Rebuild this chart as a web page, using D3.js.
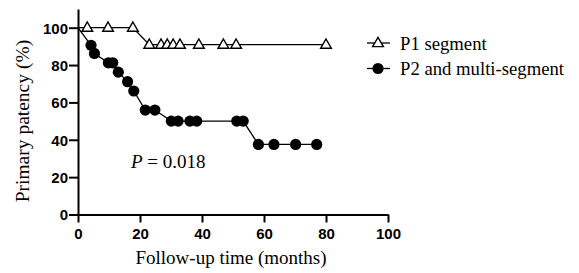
<!DOCTYPE html>
<html><head><meta charset="utf-8">
<script src="https://cdn.jsdelivr.net/npm/d3@7"></script>
<style>body{margin:0;background:#fff}svg{display:block}
.serif{font-family:"Liberation Serif","Times New Roman",serif}
.sans{font-family:"Liberation Sans",Arial,sans-serif}</style>
</head><body>
<svg id="c" width="579" height="273"></svg>
<script>
const p1Months = [0, 3, 9.7, 17.7, 23, 26.8, 28.8, 30.7, 32.9, 39, 46.9, 51, 80];
const p1Values = [100, 100, 100, 100, 90.9, 90.9, 90.9, 90.9, 90.9, 90.9, 90.9, 90.9, 90.9];
const p2Months = [0, 4.2, 5.3, 9.8, 11.2, 13, 16, 18, 21.7, 24.8, 30.1, 32.3, 36.1, 38.3, 51.2, 53.3, 58.2, 63.2, 70.2, 77];
const p2Values = [100, 90.6, 86.2, 81.2, 81.2, 76.2, 71.1, 66.1, 55.9, 55.9, 50, 50, 50, 50, 50, 50, 37.5, 37.5, 37.5, 37.5];
const xTicks = [0, 20, 40, 60, 80, 100];
const yTicks = [0, 20, 40, 60, 80, 100];
const seriesNames = ["P1 segment", "P2 and multi-segment"];

const svg = d3.select("#c");
const x = d3.scaleLinear().domain([0, 100]).range([78, 388]);
const y = d3.scaleLinear().domain([0, 110]).range([214.5, 9]);

const xAxis = svg.append("g").attr("transform", `translate(0,${y(0)})`)
  .call(d3.axisBottom(x).tickValues(xTicks).tickSize(8).tickSizeOuter(0));
const yAxis = svg.append("g").attr("transform", `translate(${x(0)},0)`)
  .call(d3.axisLeft(y).tickValues(yTicks).tickSize(9).tickSizeOuter(0));
[xAxis, yAxis].forEach(a => {
  a.attr("font-family", null).attr("font-size", null);
  a.select(".domain").attr("stroke", "#000").attr("stroke-width", 2);
  a.selectAll(".tick line").attr("stroke", "#000").attr("stroke-width", 2);
  a.selectAll(".tick text").attr("fill", "#000").attr("class", "sans")
    .style("font-weight", "bold").style("font-size", "15px");
});
xAxis.selectAll(".tick text").attr("y", 12.5).attr("dy", "0.82em");
yAxis.selectAll(".tick text").attr("x", -10).attr("dy", "0.36em");

const line = d3.line().x(d => x(d[0])).y(d => y(d[1]));
const p1 = p1Months.map((m, i) => [m, p1Values[i]]);
const p2 = p2Months.map((m, i) => [m, p2Values[i]]);

svg.append("path").datum(p1).attr("d", line).attr("fill", "none").attr("stroke", "#000").attr("stroke-width", 1.3);
svg.append("path").datum(p2).attr("d", line).attr("fill", "none").attr("stroke", "#000").attr("stroke-width", 1.3);

const tri = d3.symbol().type(d3.symbolTriangle).size(50);
svg.selectAll(".t").data(p1.slice(1)).enter().append("path")
  .attr("d", tri).attr("transform", d => `translate(${x(d[0])},${y(d[1]) + 0.5})`)
  .attr("fill", "#fff").attr("stroke", "#000").attr("stroke-width", 1.4);
svg.selectAll(".c").data(p2.slice(1)).enter().append("circle")
  .attr("cx", d => x(d[0])).attr("cy", d => y(d[1])).attr("r", 5.6).attr("fill", "#000");

const lg = svg.append("g");
lg.append("line").attr("x1", 367).attr("x2", 390).attr("y1", 43).attr("y2", 43).attr("stroke", "#000").attr("stroke-width", 1.3);
lg.append("path").attr("d", tri).attr("transform", "translate(378,43.5)").attr("fill", "#fff").attr("stroke", "#000").attr("stroke-width", 1.4);
lg.append("line").attr("x1", 367).attr("x2", 390).attr("y1", 68.5).attr("y2", 68.5).attr("stroke", "#000").attr("stroke-width", 1.3);
lg.append("circle").attr("cx", 378).attr("cy", 68.5).attr("r", 5.6).attr("fill", "#000");
lg.selectAll("text").data(seriesNames).enter().append("text")
  .attr("class", "serif").attr("x", 400).attr("y", (d, i) => 49.5 + i * 25)
  .style("font-size", "18.7px").text(d => d);

const pt = svg.append("text").attr("class", "serif").attr("x", 131).attr("y", 168)
  .style("font-size", "19px");
pt.append("tspan").style("font-style", "italic").text("P");
pt.append("tspan").text(" = 0.018");

svg.append("text").attr("class", "serif").attr("x", 231).attr("y", 264).attr("text-anchor", "middle")
  .style("font-size", "19px").text("Follow-up time (months)");
svg.append("text").attr("class", "serif").attr("transform", `translate(29,${y(50)}) rotate(-90)`).attr("text-anchor", "middle")
  .style("font-size", "19.5px").text("Primary patency (%)");
</script>
</body></html>
